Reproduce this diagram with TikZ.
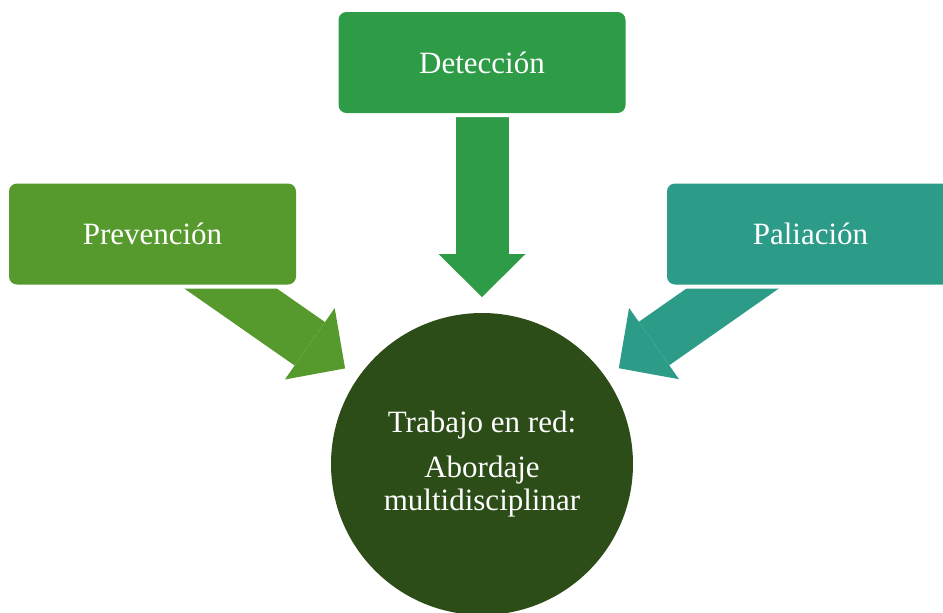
\documentclass[tikz,border=0pt]{standalone}
\usepackage{fontspec}
\setmainfont{Liberation Serif}
\usepackage{xcolor}
\usetikzlibrary{arrows.meta,backgrounds}
\definecolor{prevgreen}{RGB}{86,154,46}
\definecolor{detgreen}{RGB}{46,155,71}
\definecolor{palteal}{RGB}{44,155,136}
\definecolor{hubgreen}{RGB}{44,76,24}
\begin{document}
\begin{tikzpicture}[x=0.75pt,y=-0.75pt,
  box/.style={rectangle,rounded corners=6pt,minimum width=215.25pt,minimum height=75.75pt,inner sep=0pt,outer sep=0pt,text=white,font=\fontsize{23.25}{24.75}\selectfont,preaction={draw=white,line width=6pt}},
  hub/.style={circle,fill=hubgreen,minimum size=226.5pt,inner sep=0pt,outer sep=0pt,text=white,align=center,font=\fontsize{23.25}{24.75}\selectfont},
  bigarrow/.style={line width=39.75pt,-{Triangle[width=65.25pt,length=32.25pt,line width=0pt]},shorten >=12pt}]
\useasboundingbox (0,0) rectangle (943,612);
\node[box,fill=detgreen] (det) at (482,62.5){Detección};
\node[box,fill=prevgreen] (prev) at (152.5,234){Prevención};
\node[box,fill=palteal] (pal) at (810.5,234){Paliación};
\node[hub] (hub) at (482,464){Trabajo en red:\\[9pt]Abordaje\\multidisciplinar};
\begin{scope}[on background layer]
\draw[bigarrow,detgreen](det.center)--(hub);
\draw[bigarrow,prevgreen](prev.center)--(hub);
\draw[bigarrow,palteal](pal.center)--(hub);
\end{scope}
\end{tikzpicture}
\end{document}
